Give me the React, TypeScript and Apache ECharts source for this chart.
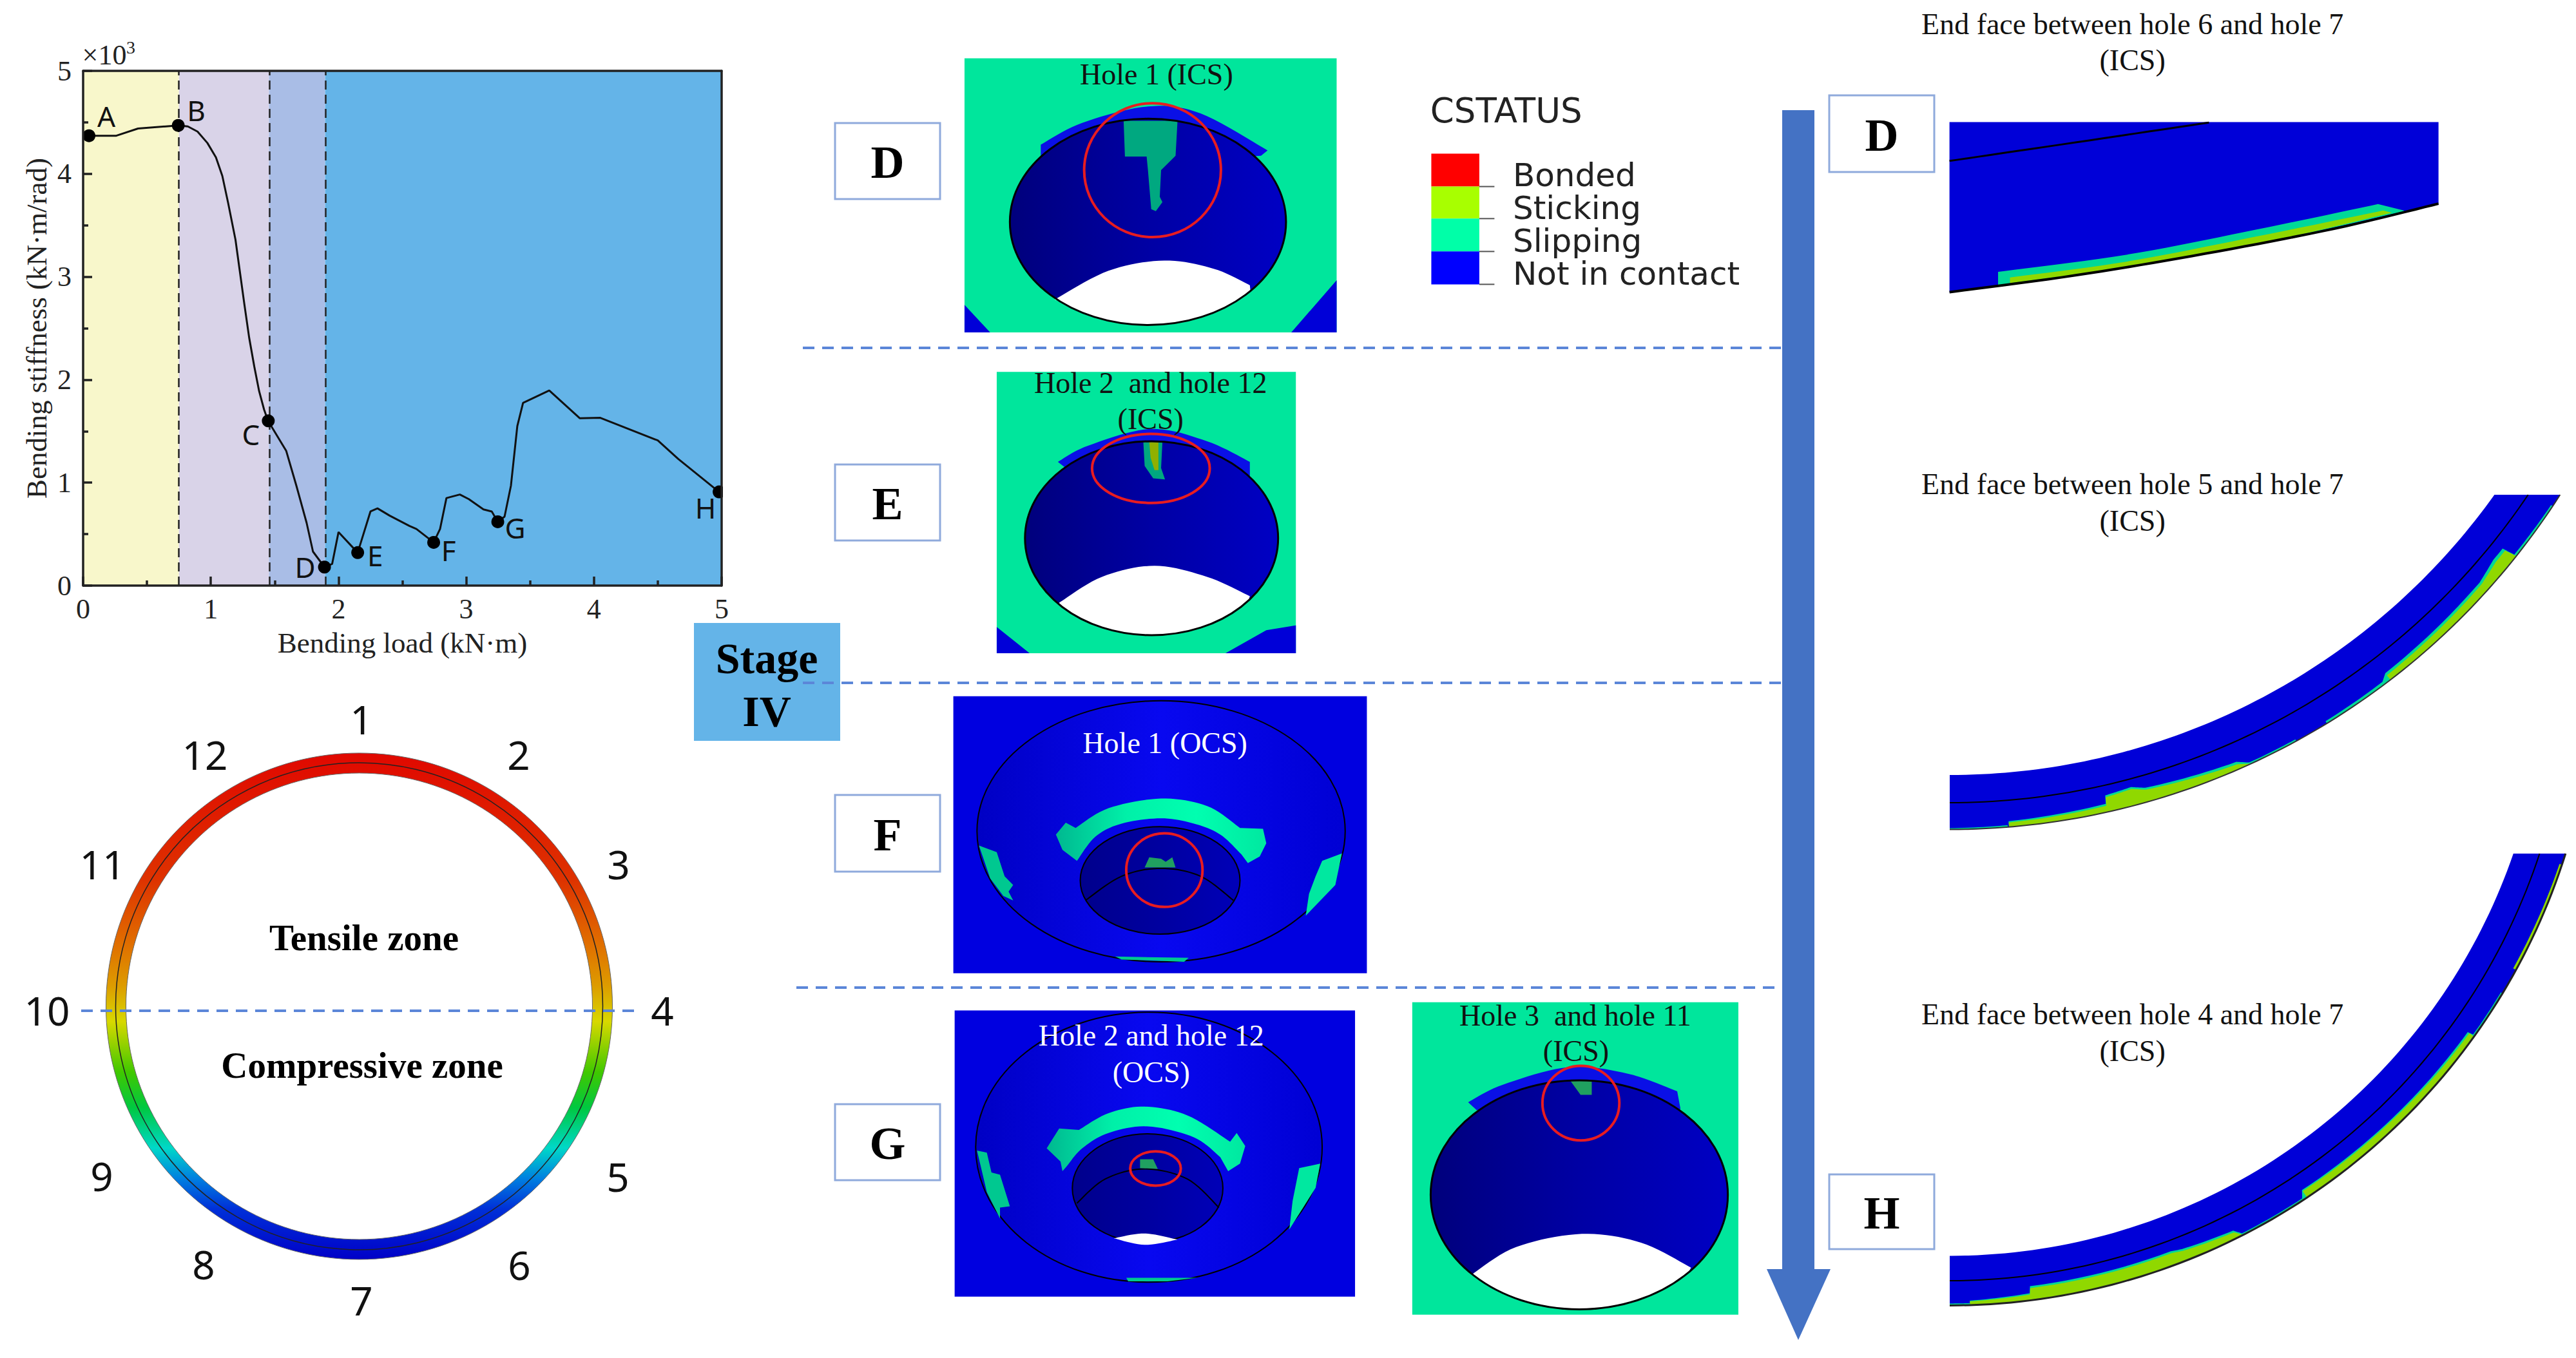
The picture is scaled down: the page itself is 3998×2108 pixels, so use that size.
import React, { useEffect, useRef } from "react";
import * as echarts from "echarts";

// ---- data ----
const loadValues = [0.046,0.26,0.43,0.745,0.82,0.896,0.973,1.04,1.09,1.135,1.193,1.224,1.263,1.3,1.34,1.378,1.417,1.448,1.59,1.67,1.75,1.8,1.89,1.95,2.0,2.15,2.25,2.305,2.4,2.555,2.61,2.745,2.795,2.845,2.95,3.02,3.135,3.2,3.247,3.3,3.35,3.4,3.445,3.65,3.89,4.05,4.5,4.66,4.98];
const stiffnessValues = [4.37,4.37,4.44,4.47,4.46,4.41,4.3,4.16,3.98,3.72,3.36,3.08,2.73,2.41,2.13,1.89,1.71,1.6,1.31,0.97,0.61,0.33,0.18,0.21,0.52,0.32,0.72,0.75,0.68,0.58,0.55,0.42,0.55,0.85,0.885,0.84,0.74,0.72,0.62,0.67,0.97,1.55,1.775,1.895,1.625,1.63,1.41,1.23,0.91];
const pointNames = ["A","B","C","D","E","F","G","H"];
const pointLoads = [0.046,0.745,1.45,1.89,2.15,2.745,3.247,4.98];
const pointStiffness = [4.37,4.47,1.6,0.18,0.32,0.42,0.62,0.91];
const pointLabelOffsets = [[27,-31],[28,-24],[-27,21],[-30,0],[27,4],[23,12],[27,9],[-21,24]];
const stageEdges = [0,0.75,1.455,1.895,5];
const stageColors = ["#f8f7cb","#d9d3e8","#a9bde6","#64b4e8"];
const holeNumbers = ["1","2","3","4","5","6","7","8","9","10","11","12"];
const legendNames = ["Bonded","Sticking","Slipping","Not in contact"];
const legendColors = ["#ff0000","#a8ff00","#00ffa8","#0000ff"];

type P = number[];
const Z3 = (p: P) => [1200 + p[0] / 0.98, 60 + p[1] / 1.568];
const Z4 = (p: P) => [1200 + p[0] / 0.98, 1040 + p[1] / 1.468];
const Z5 = (p: P) => [2740 + p[0] / 1.2464, p[1] / 1.493];
const Z6 = (p: P) => [2740 + p[0] / 1.2464, 1050 + p[1] / 1.482];
const FULL = (p: P) => p;

const SERIF = "Liberation Serif";
const SANS = "DejaVu Sans";
const MINT = "#00e69c";
const BLUE = "#0000d8";
const RED = "#e81c20";
const LIME = "#90d800";
const FRINGE = "#00d898";

function curve(pts: P[], n = 10): P[] {
  const out: P[] = [];
  for (let i = 0; i < pts.length - 1; i++) {
    const p0 = pts[Math.max(i - 1, 0)], p1 = pts[i], p2 = pts[i + 1], p3 = pts[Math.min(i + 2, pts.length - 1)];
    for (let k = 0; k < n; k++) {
      const t = k / n;
      const f = (a: number, b: number, c: number, d: number) =>
        0.5 * (2 * b + (c - a) * t + (2 * a - 5 * b + 4 * c - d) * t * t + (3 * b - a - 3 * c + d) * t * t * t);
      out.push([f(p0[0], p1[0], p2[0], p3[0]), f(p0[1], p1[1], p2[1], p3[1])]);
    }
  }
  out.push(pts[pts.length - 1]);
  return out;
}
const rad = (d: number) => (d * Math.PI) / 180;
// arc around (cx, cy), angle in degrees measured from straight down toward +x
function arc(cx: number, cy: number, R: number, t0: number, t1: number, n = 80): P[] {
  const out: P[] = [];
  for (let i = 0; i <= n; i++) {
    const t = rad(t0 + ((t1 - t0) * i) / n);
    out.push([cx + R * Math.sin(t), cy + R * Math.cos(t)]);
  }
  return out;
}
const endAngle = (cy: number, R: number, y: number) => (Math.acos((y - cy) / R) * 180) / Math.PI;
// strip along the outer edge of an arc: knots are [angle, thickness]
function strip(cx: number, cy: number, R: number, knots: number[][], fill: string) {
  const outer: P[] = [], inner: P[] = [];
  for (let i = 0; i < knots.length - 1; i++) {
    const [a0, h0] = knots[i], [a1, h1] = knots[i + 1];
    for (let k = 0; k <= 12; k++) {
      const t = k / 12, a = rad(a0 + (a1 - a0) * t), h = h0 + (h1 - h0) * t;
      outer.push([cx + R * Math.sin(a), cy + R * Math.cos(a)]);
      inner.push([cx + (R - h) * Math.sin(a), cy + (R - h) * Math.cos(a)]);
    }
  }
  return { type: "polygon", silent: true, shape: { points: outer.concat(inner.reverse()) }, style: { fill } };
}
const poly = (conv: (p: P) => number[], pts: P[], fill: any) => ({
  type: "polygon", silent: true, shape: { points: pts.map(conv) }, style: { fill },
});
const line = (conv: (p: P) => number[], pts: P[], stroke: string, lineWidth: number) => ({
  type: "polyline", silent: true, shape: { points: pts.map(conv) }, style: { stroke, lineWidth, fill: "none" },
});
const rect = (conv: (p: P) => number[], x0: number, y0: number, x1: number, y1: number, fill: any, stroke?: string, lineWidth = 0) => {
  const a = conv([x0, y0]), b = conv([x1, y1]);
  return { type: "rect", silent: true, shape: { x: a[0], y: a[1], width: b[0] - a[0], height: b[1] - a[1] }, style: { fill, stroke, lineWidth } };
};
const ell = (conv: (p: P) => number[], x0: number, x1: number, y0: number, y1: number, style: any) => {
  const a = conv([x0, y0]), b = conv([x1, y1]);
  return { type: "ellipse", silent: true, shape: { cx: (a[0] + b[0]) / 2, cy: (a[1] + b[1]) / 2, rx: (b[0] - a[0]) / 2, ry: (b[1] - a[1]) / 2 }, style };
};
const txt = (conv: (p: P) => number[], x: number, y: number, text: string, o: any = {}) => {
  const a = conv([x, y]);
  return {
    type: "text", silent: true, x: a[0], y: a[1],
    style: { text, fontFamily: SERIF, fontSize: 46, fill: "#111", align: "center", verticalAlign: "middle", ...o },
  };
};
// white lower part of a hole: upper curve, closed along the hole's ellipse
const lens = (conv: (p: P) => number[], top: P[], x0: number, x1: number, y0: number, y1: number) => {
  const cx = (x0 + x1) / 2, cy = (y0 + y1) / 2, rx = (x1 - x0) / 2, ry = (y1 - y0) / 2;
  const r = top[top.length - 1], l = top[0];
  const a0 = Math.atan2((r[1] - cy) / ry, (r[0] - cx) / rx);
  const a1 = Math.atan2((l[1] - cy) / ry, (l[0] - cx) / rx);
  const bottom: P[] = [];
  for (let i = 1; i < 40; i++) {
    const a = a0 + ((a1 - a0) * i) / 40;
    bottom.push([cx + rx * Math.cos(a), cy + ry * Math.sin(a)]);
  }
  return poly(conv, curve(top).concat(bottom), "#ffffff");
};
const hGrad = (stops: string[]) =>
  new echarts.graphic.LinearGradient(0, 0, 1, 0, stops.map((color, i) => ({ offset: i / (stops.length - 1), color })));

const labelBox = (conv: (p: P) => number[], x0: number, y0: number, x1: number, y1: number, text: string) => {
  const a = conv([x0, y0]), b = conv([x1, y1]);
  return [
    { type: "rect", silent: true, shape: { x: a[0], y: a[1], width: b[0] - a[0], height: b[1] - a[1] }, style: { fill: "#fff", stroke: "#8faadc", lineWidth: 3 } },
    { type: "text", silent: true, x: (a[0] + b[0]) / 2, y: (a[1] + b[1]) / 2 + 2, style: { text, fontFamily: SERIF, fontWeight: "bold", fontSize: 72, fill: "#000", align: "center", verticalAlign: "middle" } },
  ];
};
const dash = (x0: number, x1: number, y: number) => ({
  type: "line", silent: true, shape: { x1: x0, y1: y, x2: x1, y2: y },
  style: { stroke: "#5b86d8", lineWidth: 4, lineDash: [18, 12] },
});

function ringPart() {
  const grad = new echarts.graphic.LinearGradient(0, 0, 0, 1, [
    { offset: 0, color: "#e00800" }, { offset: 0.25, color: "#de3200" }, { offset: 0.38, color: "#e07000" },
    { offset: 0.46, color: "#dd9c00" }, { offset: 0.53, color: "#d8d800" }, { offset: 0.63, color: "#40c800" },
    { offset: 0.7, color: "#00c840" }, { offset: 0.78, color: "#00d8c8" }, { offset: 0.84, color: "#0080e0" },
    { offset: 0.9, color: "#0030d8" }, { offset: 1, color: "#0000c8" },
  ]);
  const cx = 557.5, cy = 1562;
  const nums = [[561,1116],[805,1171],[960,1341],[1028,1568],[959,1826],[806,1963],[561,2018],[316,1962],[158,1825],[73,1568],[159,1341],[318,1171]];
  return [
    { type: "ring", silent: true, shape: { cx, cy, r: 393, r0: 362 }, style: { fill: grad } },
    { type: "circle", silent: true, shape: { cx, cy, r: 393 }, style: { fill: "none", stroke: "#666", lineWidth: 1 } },
    { type: "circle", silent: true, shape: { cx, cy, r: 362 }, style: { fill: "none", stroke: "#666", lineWidth: 1 } },
    { type: "circle", silent: true, shape: { cx, cy, r: 378 }, style: { fill: "none", stroke: "#222", lineWidth: 1.5 } },
    dash(126, 987, 1569),
    ...holeNumbers.map((n, i) => txt(FULL, nums[i][0], nums[i][1], n, { fontFamily: "Noto Sans", fontSize: 62, fill: "#111" })),
    txt(FULL, 565, 1455, "Tensile zone", { fontWeight: "bold", fontSize: 57, fill: "#000" }),
    txt(FULL, 562, 1653, "Compressive zone", { fontWeight: "bold", fontSize: 57, fill: "#000" }),
  ];
}

function panels() {
  const dark = hGrad(["#00007c", "#0000a4", "#0000c4"]);
  const outer = hGrad(["#0000c4", "#0808f0", "#0000d4"]);
  const inner = hGrad(["#00008c", "#0000a0", "#0000b8"]);
  const band = hGrad(["#00b890", "#00f0a8", "#00ffb0", "#00e8a0"]);
  const els: any[] = [];
  const bandF = ([[430, 375], [445, 348]] as P[])
    .concat(curve([[460, 360], [510, 315], [590, 293], [660, 310], [710, 360]]))
    .concat([[745, 362], [750, 395], [740, 425], [722, 440]])
    .concat(curve([[712, 420], [680, 375], [640, 350], [590, 338], [530, 350], [490, 380], [462, 435]]))
    .concat([[440, 410]]);
  const bandG = ([[416, 1090], [435, 1045]] as P[])
    .concat(curve([[465, 1048], [510, 1010], [565, 995], [630, 1015], [695, 1075]]))
    .concat([[705, 1055], [718, 1085], [710, 1125], [692, 1142]])
    .concat(curve([[680, 1110], [640, 1065], [570, 1040], [510, 1055], [470, 1090], [447, 1130]]))
    .concat([[440, 1142], [437, 1120]]);
  // D: hole 1 ICS
  els.push(
    rect(Z3, 291, 48, 857, 715, MINT),
    poly(Z3, [[291, 648], [330, 715], [291, 715]], BLUE),
    poly(Z3, [[857, 588], [788, 715], [857, 715]], BLUE),
    poly(Z3, curve([[407, 258], [470, 205], [570, 165], [650, 182], [752, 272]]).concat([[742, 285], [600, 300], [407, 295]]), "#0a10e6"),
    ell(Z3, 360, 780, 195, 697, { fill: dark }),
    poly(Z3, [[533, 200], [615, 200], [612, 285], [590, 320], [588, 385], [592, 398], [582, 420], [575, 415], [570, 320], [568, 287], [535, 287]], "#00a880"),
    lens(Z3, [[428, 635], [510, 565], [595, 540], [670, 560], [725, 600]], 360, 780, 195, 697),
    ell(Z3, 360, 780, 195, 697, { fill: "none", stroke: "#000", lineWidth: 3 }),
    ell(Z3, 473, 681, 157, 483, { fill: "none", stroke: RED, lineWidth: 4 }),
    txt(Z3, 583, 87, "Hole 1 (ICS)"),
  );
  // E: hole 2 and hole 12 ICS
  els.push(
    rect(Z3, 340, 811, 795, 1496, MINT),
    poly(Z3, [[340, 1432], [390, 1496], [340, 1496]], BLUE),
    poly(Z3, [[688, 1496], [750, 1440], [795, 1428], [795, 1496]], BLUE),
    poly(Z3, curve([[433, 1030], [480, 990], [575, 950], [660, 980], [725, 1030]]).concat([[725, 1065], [445, 1045]]), "#0a10e6"),
    ell(Z3, 383, 768, 980, 1452, { fill: dark }),
    poly(Z3, [[563, 982], [592, 982], [590, 1045], [596, 1073], [578, 1070], [565, 1040]], "#00a880"),
    poly(Z3, [[572, 982], [586, 982], [586, 1050], [580, 1050], [574, 1020]], "#90b000"),
    lens(Z3, [[433, 1375], [500, 1310], [580, 1283], [660, 1310], [725, 1357]], 383, 768, 980, 1452),
    ell(Z3, 383, 768, 980, 1452, { fill: "none", stroke: "#000", lineWidth: 3 }),
    ell(Z3, 485, 664, 962, 1130, { fill: "none", stroke: RED, lineWidth: 4 }),
    txt(Z3, 574, 838, "Hole 2  and hole 12"),
    txt(Z3, 574, 926, "(ICS)"),
  );
  // F: hole 1 OCS
  els.push(
    rect(Z4, 274, 60, 903, 691, "#0000e0"),
    ell(Z4, 310, 870, 70, 665, { fill: outer, stroke: "#000", lineWidth: 2 }),
    poly(Z4, bandF, band),
    ell(Z4, 467, 710, 357, 602, { fill: inner, stroke: "#000", lineWidth: 2 }),
    line(Z4, curve([[475, 525], [530, 470], [590, 452], [650, 470], [700, 525]]), "#000", 2),
    poly(Z4, [[313, 400], [340, 415], [352, 470], [365, 490], [358, 505], [365, 525], [350, 515], [330, 475]], "#00c890"),
    poly(Z4, [[835, 435], [865, 418], [855, 490], [810, 560], [815, 510], [825, 470]], "#00e8a0"),
    poly(Z4, [[520, 653], [632, 656], [625, 665], [575, 662], [530, 660]], "#00c890"),
    poly(Z4, [[565, 450], [572, 427], [590, 430], [597, 437], [607, 427], [612, 450]], "#20a060"),
    ell(Z4, 537, 653, 372, 540, { fill: "none", stroke: RED, lineWidth: 4 }),
    txt(Z4, 596, 167, "Hole 1 (OCS)", { fill: "#fff" }),
  );
  // G: hole 2 and hole 12 OCS
  els.push(
    rect(Z4, 276, 776, 885, 1428, "#0000e0"),
    ell(Z4, 308, 835, 780, 1395, { fill: outer, stroke: "#000", lineWidth: 2 }),
    poly(Z4, bandG, band),
    ell(Z4, 455, 684, 1057, 1305, { fill: inner, stroke: "#000", lineWidth: 2 }),
    poly(Z4, curve([[518, 1295], [565, 1284], [615, 1298]]).concat(curve([[615, 1298], [565, 1310], [518, 1295]])), "#fff"),
    line(Z4, curve([[462, 1215], [505, 1160], [565, 1137], [630, 1160], [678, 1225]]), "#000", 2),
    poly(Z4, [[310, 1095], [325, 1100], [332, 1145], [345, 1150], [360, 1222], [345, 1225], [345, 1250], [325, 1190]], "#00c890"),
    poly(Z4, [[800, 1135], [832, 1125], [825, 1180], [785, 1275], [790, 1210]], "#00e8a0"),
    poly(Z4, [[537, 1385], [645, 1385], [600, 1393], [540, 1393]], "#00c890"),
    poly(Z4, [[558, 1115], [578, 1115], [585, 1137], [558, 1135]], "#20a060"),
    ell(Z4, 543, 620, 1097, 1175, { fill: "none", stroke: RED, lineWidth: 4 }),
    txt(Z4, 575, 833, "Hole 2 and hole 12", { fill: "#fff" }),
    txt(Z4, 575, 917, "(OCS)", { fill: "#fff" }),
  );
  // G: hole 3 and hole 11 ICS
  els.push(
    rect(Z4, 972, 757, 1468, 1469, MINT),
    poly(Z4, curve([[1057, 985], [1110, 945], [1210, 905], [1300, 920], [1375, 960]]).concat([[1380, 1000], [1370, 1010], [1070, 1003]]), "#0a10e6"),
    ell(Z4, 1000, 1452, 935, 1457, { fill: dark }),
    poly(Z4, [[1212, 935], [1245, 935], [1245, 968], [1228, 968]], "#20a060"),
    lens(Z4, [[1062, 1378], [1130, 1315], [1230, 1285], [1320, 1305], [1396, 1362]], 1000, 1452, 935, 1457),
    ell(Z4, 1000, 1452, 935, 1457, { fill: "none", stroke: "#000", lineWidth: 3 }),
    ell(Z4, 1170, 1287, 902, 1072, { fill: "none", stroke: RED, lineWidth: 4 }),
    txt(Z4, 1220, 787, "Hole 3  and hole 11"),
    txt(Z4, 1221, 868, "(ICS)"),
  );
  return els;
}

function legendPart() {
  const tops = [280, 360, 438, 518, 598];
  const ys = [332, 412, 492, 572];
  const els: any[] = [txt(Z3, 1115, 175, "CSTATUS", { fontFamily: SANS, fontSize: 53, fill: "#222" })];
  legendColors.forEach((c, i) => {
    els.push(rect(Z3, 1001, tops[i], 1074, tops[i + 1], c));
    els.push(line(Z3, [[1074, tops[i + 1]], [1097, tops[i + 1]]], "#555", 2));
    els.push(txt(Z3, 1125, ys[i], legendNames[i], { fontFamily: SANS, fontSize: 50, align: "left", fill: "#222" }));
  });
  return els;
}

function endFaces() {
  const els: any[] = [];
  // top: D
  const bottomD = curve([[356, 677], [600, 638], [850, 588], [1100, 530], [1302, 472]]);
  els.push(
    poly(Z5, ([[356, 283], [1302, 283]] as P[]).concat(bottomD.slice().reverse()), BLUE),
    line(Z5, curve([[356, 373], [600, 330], [858, 284]]), "#000", 3),
    poly(Z5, ([[450, 630]] as P[]).concat(curve([[450, 630], [700, 590], [950, 532], [1185, 473]])).concat([[1235, 488]]).concat(curve([[1235, 490], [950, 566], [700, 619], [450, 662]])), FRINGE),
    poly(Z5, curve([[473, 643], [700, 606], [950, 548], [1195, 488]]).concat(curve([[1212, 493], [950, 566], [700, 619], [473, 656]])), LIME),
    line(Z5, bottomD, "#000", 4),
    txt(Z5, 710, 56, "End face between hole 6 and hole 7"),
    txt(Z5, 710, 140, "(ICS)"),
  );
  // middle
  const cxM = 3026, cyM = 164;
  els.push(
    { type: "polygon", silent: true, shape: { points: arc(cxM, cyM, 1039, 0, endAngle(cyM, 1039, 768)).concat(arc(cxM, cyM, 1123.5, endAngle(cyM, 1123.5, 768), 0)) }, style: { fill: BLUE } },
    { type: "polyline", silent: true, shape: { points: arc(cxM, cyM, 1082, 0, endAngle(cyM, 1082, 768)) }, style: { stroke: "#000", lineWidth: 2, fill: "none" } },
    strip(cxM, cyM, 1123.5, [[0, 2], [4.6, 3]], FRINGE),
    strip(cxM, cyM, 1123.5, [[4.7, 9], [12.6, 13], [12.7, 26], [14.9, 29], [16, 22], [23.6, 12], [24.5, 3], [28.6, 3]], FRINGE),
    strip(cxM, cyM, 1123.5, [[4.7, 7], [12.6, 10], [12.7, 23], [14.9, 26], [16, 19], [23.6, 8], [24.5, 1]], LIME),
    strip(cxM, cyM, 1123.5, [[31.4, 4], [36.9, 5], [37.5, 13], [48, 17], [50.1, 24], [51.3, 24], [51.5, 4], [56.4, 3]], FRINGE),
    strip(cxM, cyM, 1123.5, [[37.5, 9], [48, 13], [50.1, 19], [51.3, 19], [51.5, 1]], LIME),
    { type: "polyline", silent: true, shape: { points: arc(cxM, cyM, 1123.5, 0, endAngle(cyM, 1123.5, 768)) }, style: { stroke: "#333", lineWidth: 2, fill: "none" } },
    txt(Z5, 710, 1122, "End face between hole 5 and hole 7"),
    txt(Z5, 710, 1207, "(ICS)"),
  );
  // bottom: H
  const cxB = 3026, cyB = 1024.4;
  els.push(
    { type: "polygon", silent: true, shape: { points: arc(cxB, cyB, 925, 0, endAngle(cyB, 925, 1325)).concat(arc(cxB, cyB, 1002, endAngle(cyB, 1002, 1325), 0)) }, style: { fill: BLUE } },
    { type: "polyline", silent: true, shape: { points: arc(cxB, cyB, 963.6, 0, endAngle(cyB, 963.6, 1325)) }, style: { stroke: "#000", lineWidth: 2, fill: "none" } },
    strip(cxB, cyB, 1002, [[0, 3], [1.8, 3]], FRINGE),
    strip(cxB, cyB, 1002, [[1.8, 7], [7.2, 11], [7.3, 22], [20.5, 22], [21.5, 19], [26.4, 13], [27, 3], [33.2, 3], [33.6, 14], [45, 13], [54.3, 12], [54.4, 3], [58.9, 3]], FRINGE),
    strip(cxB, cyB, 1002, [[1.8, 6], [7.2, 9], [7.3, 19], [20.5, 19], [21.5, 16], [26.4, 10], [27, 1]], LIME),
    strip(cxB, cyB, 1002, [[33.6, 12], [45, 11], [54.3, 9]], LIME),
    strip(cxB, cyB, 1002, [[61.3, 5], [71.5, 4]], LIME),
    { type: "polyline", silent: true, shape: { points: arc(cxB, cyB, 1002, 0, endAngle(cyB, 1002, 1325)) }, style: { stroke: "#222", lineWidth: 3, fill: "none" } },
    txt(Z6, 710, 778, "End face between hole 4 and hole 7"),
    txt(Z6, 710, 862, "(ICS)"),
  );
  return els;
}

function overlays() {
  return [
    { type: "rect", silent: true, shape: { x: 1077, y: 967, width: 227, height: 183 }, style: { fill: "#64b4e8" } },
    txt(FULL, 1190, 1022, "Stage", { fontWeight: "bold", fontSize: 68, fill: "#000" }),
    txt(FULL, 1190, 1104, "IV", { fontWeight: "bold", fontSize: 68, fill: "#000" }),
    dash(1246, 2766, 540),
    dash(1246, 2766, 1060),
    dash(1236, 2761, 1533),
    { type: "polygon", silent: true, shape: { points: [[2766, 171], [2816, 171], [2816, 1970], [2841, 1970], [2791, 2080], [2742, 1970], [2766, 1970]] }, style: { fill: "#4472c4" } },
    ...labelBox(FULL, 1296, 191, 1459, 309, "D"),
    ...labelBox(FULL, 1296, 721, 1459, 839, "E"),
    ...labelBox(FULL, 1296, 1234, 1459, 1353, "F"),
    ...labelBox(FULL, 1296, 1714, 1459, 1832, "G"),
    ...labelBox(FULL, 2839, 148, 3002, 267, "D"),
    ...labelBox(FULL, 2839, 1823, 3002, 1939, "H"),
  ];
}

const axisFont = { fontFamily: SERIF, fontSize: 44, color: "#222" };

function buildOption() {
  const tickStyle = { color: "#222", width: 3.5 };
  return {
    animation: false,
    backgroundColor: "#ffffff",
    grid: { left: 129, top: 110, width: 991, height: 799, containLabel: false },
    xAxis: [
      {
        type: "value", min: 0, max: 5, interval: 1, z: 8, show: true,
        name: "Bending load (kN·m)", nameLocation: "middle", nameGap: 66,
        nameTextStyle: { ...axisFont, fontSize: 45 },
        axisLabel: { ...axisFont, margin: 14 },
        axisLine: { show: true, onZero: false, lineStyle: tickStyle },
        axisTick: { show: true, inside: true, length: 14, lineStyle: tickStyle },
        minorTick: { show: true, splitNumber: 2, length: 8, lineStyle: tickStyle },
        splitLine: { show: false },
      },
      { type: "value", min: 0, max: 5, position: "top", z: 8, axisLabel: { show: false }, axisTick: { show: false }, axisLine: { show: true, onZero: false, lineStyle: tickStyle }, splitLine: { show: false } },
    ],
    yAxis: [
      {
        type: "value", min: 0, max: 5, interval: 1, z: 8, show: true,
        name: "Bending stiffness (kN·m/rad)", nameLocation: "middle", nameGap: 50,
        nameTextStyle: { ...axisFont, fontSize: 45 },
        axisLabel: { ...axisFont, margin: 18 },
        axisLine: { show: true, onZero: false, lineStyle: tickStyle },
        axisTick: { show: true, inside: true, length: 14, lineStyle: tickStyle },
        minorTick: { show: true, splitNumber: 2, length: 8, lineStyle: tickStyle },
        splitLine: { show: false },
      },
      { type: "value", min: 0, max: 5, position: "right", z: 8, axisLabel: { show: false }, axisTick: { show: false }, axisLine: { show: true, onZero: false, lineStyle: tickStyle }, splitLine: { show: false } },
    ],
    graphic: {
      elements: [
        txt(FULL, 162, 85, "×10", { fontSize: 44, fill: "#222" }),
        txt(FULL, 203, 73, "3", { fontSize: 28, fill: "#222" }),
        // the end point H is cut by the plot's right edge
        { type: "rect", silent: true, z: 100, shape: { x: 1122, y: 745, width: 12, height: 50 }, style: { fill: "#fff" } },
        ...ringPart(),
        ...panels(),
        ...legendPart(),
        ...endFaces(),
        ...overlays(),
      ],
    },
    series: [
      {
        type: "line", xAxisIndex: 0, yAxisIndex: 0, symbol: "none", z: 3, smooth: false,
        data: loadValues.map((x, i) => [x, stiffnessValues[i]]),
        lineStyle: { color: "#111", width: 3 },
        markArea: {
          silent: true, z: -2,
          data: stageColors.map((color, i) => [
            { xAxis: stageEdges[i], itemStyle: { color, opacity: 1 } },
            { xAxis: stageEdges[i + 1] },
          ]),
        },
        markLine: {
          silent: true, symbol: "none", z: 2, label: { show: false },
          lineStyle: { color: "#222", width: 2.5, type: [14, 8] },
          data: stageEdges.slice(1, 4).map((x) => ({ xAxis: x })),
        },
      },
      {
        type: "scatter", xAxisIndex: 0, yAxisIndex: 0, symbolSize: 20, z: 4, clip: true,
        itemStyle: { color: "#000", opacity: 1 },
        data: pointNames.map((name, i) => ({
          name, value: [pointLoads[i], pointStiffness[i]],
          label: { show: true, position: "inside", offset: pointLabelOffsets[i], formatter: name, fontFamily: "Noto Sans", fontSize: 44, color: "#111" },
        })),
      },
    ],
  };
}

export default function App() {
  const ref = useRef<HTMLDivElement>(null);
  useEffect(() => {
    const chart = echarts.init(ref.current!, undefined, { renderer: "svg" });
    chart.setOption(buildOption() as any);
    return () => chart.dispose();
  }, []);
  return <div ref={ref} style={{ position: "absolute", left: 0, top: 0, width: 3998, height: 2108, background: "#fff" }} />;
}
